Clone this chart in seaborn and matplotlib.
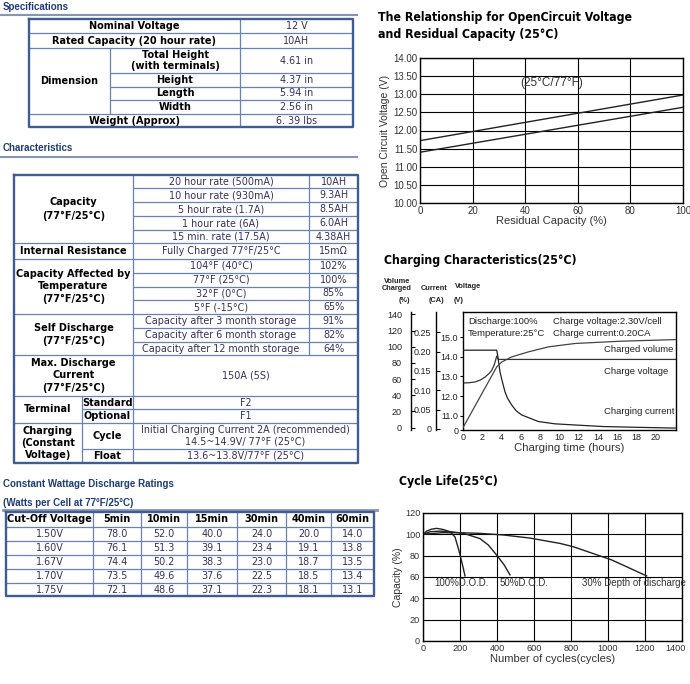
import matplotlib
matplotlib.use("Agg")
import matplotlib.pyplot as plt
import matplotlib.transforms as mtransforms
import seaborn as sns
import numpy as np

# ------------------------------------------------------------------ data
spec_main = ["Nominal Voltage", "Rated Capacity (20 hour rate)"]
spec_main_values = ["12 V", "10AH"]
dim_items = ["Total Height\n(with terminals)", "Height", "Length", "Width"]
dim_values = ["4.61 in", "4.37 in", "5.94 in", "2.56 in"]
weight_label = "Weight (Approx)"
weight_value = "6. 39 lbs"

capacity_rates = ["20 hour rate (500mA)", "10 hour rate (930mA)", "5 hour rate (1.7A)",
                  "1 hour rate (6A)", "15 min. rate (17.5A)"]
capacity_values = ["10AH", "9.3AH", "8.5AH", "6.0AH", "4.38AH"]
resistance_cond = "Fully Charged 77°F/25°C"
resistance_value = "15mΩ"
temp_conditions = ["104°F (40°C)", "77°F (25°C)", "32°F (0°C)", "5°F (-15°C)"]
temp_values = ["102%", "100%", "85%", "65%"]
storage_conditions = ["Capacity after 3 month storage", "Capacity after 6 month storage",
                      "Capacity after 12 month storage"]
storage_values = ["91%", "82%", "64%"]
max_discharge = "150A (5S)"
terminal_types = ["Standard", "Optional"]
terminal_values = ["F2", "F1"]
charging_modes = ["Cycle", "Float"]
charging_values = ["Initial Charging Current 2A (recommended)\n14.5~14.9V/ 77°F (25°C)",
                   "13.6~13.8V/77°F (25°C)"]

watt_headers = ["Cut-Off Voltage", "5min", "10min", "15min", "30min", "40min", "60min"]
cutoff_voltages = ["1.50V", "1.60V", "1.67V", "1.70V", "1.75V"]
watts_5min = [78.0, 76.1, 74.4, 73.5, 72.1]
watts_10min = [52.0, 51.3, 50.2, 49.6, 48.6]
watts_15min = [40.0, 39.1, 38.3, 37.6, 37.1]
watts_30min = [24.0, 23.4, 23.0, 22.5, 22.3]
watts_40min = [20.0, 19.1, 18.7, 18.5, 18.1]
watts_60min = [14.0, 13.8, 13.5, 13.4, 13.1]

ocv_capacity = [0, 100]
ocv_upper = [11.72, 12.98]
ocv_lower = [11.40, 12.64]

volt_hours = [0, 0.6, 1.24, 1.8, 2.28, 2.7, 2.97, 3.2, 3.32, 3.49, 3.66, 22.0]
volt_values = [12.67, 12.68, 12.72, 12.82, 12.97, 13.15, 13.31, 13.55, 13.73, 14.04, 13.87, 13.87]
current_hours = [0, 3.49, 3.59, 3.83, 4.0, 4.35, 4.6, 5.04, 5.5, 6.08, 7.8, 9.53, 11.6, 14.5, 18.0, 22.0]
current_ca = [0.204, 0.204, 0.191, 0.148, 0.13, 0.096, 0.08, 0.062, 0.047, 0.036, 0.019,
              0.013, 0.010, 0.006, 0.004, 0.002]
volume_hours = [0, 3.49, 4.0, 5.04, 6.77, 8.84, 11.6, 16.3, 22.0]
volume_pct = [0, 75, 81, 87.4, 93.6, 99.8, 104, 106.8, 108.8]

dod100_cycles = [0, 20, 45, 74, 110, 146, 173, 196, 214, 227]
dod100_cap = [100, 103, 104.8, 105.6, 104.5, 102.4, 97.5, 83.7, 71, 61]
dod50_cycles = [0, 40, 90, 150, 218, 308, 353, 398, 440, 470]
dod50_cap = [100, 102.5, 103, 102.5, 101, 96, 90, 80.6, 71, 62]
dod30_cycles = [0, 100, 200, 300, 434, 578, 740, 812, 1020, 1209]
dod30_cap = [100, 101.5, 101.5, 101, 99.4, 96.5, 91.5, 88.4, 76, 61]

# ------------------------------------------------------------------ setup
plt.rcParams['font.family'] = ['Liberation Sans', 'DejaVu Sans']
fig = plt.figure(figsize=(6.9, 6.84), dpi=100, facecolor='white')
bg = fig.add_axes([0, 0, 1, 1])
bg.set_xlim(0, 690)
bg.set_ylim(684, 0)
bg.axis('off')

TF = 'DejaVu Sans'
TS = 6.9
TSB = 7.0
BORDER = '#3e5c96'
INNER = '#6783b4'
VALC = '#3a2f5b'
HEADC = '#1f3c78'
TITLEF = dict(fontfamily='DejaVu Sans', fontweight='bold', fontstretch='condensed', fontsize=8.8)


def seg(x0, y0, x1, y1, lw=0.9, c=INNER):
    bg.plot([x0, x1], [y0, y1], color=c, lw=lw, solid_capstyle='butt')


def frame(x0, y0, x1, y1):
    bg.plot([x0, x1, x1, x0, x0], [y0, y0, y1, y1, y0], color=BORDER, lw=1.7)


def t(x, y, s, bold=False, color='black', ls=1.25):
    bg.text(x, y, s, ha='center', va='center', fontsize=TSB if bold else TS, fontfamily=TF,
            fontweight='bold' if bold else 'normal', color=color, linespacing=ls)


def section(y_text, y_line, s, x1=357):
    bg.text(3, y_text, s, fontfamily='Liberation Sans', fontweight='bold', fontsize=7,
            color=HEADC, va='center', ha='left')
    if y_line is not None:
        bg.plot([0, x1], [y_line, y_line], color='#8595b5', lw=1.5)


# ------------------------------------------------------------------ specifications
section(7, 14.5, "Specifications")
X = [29, 110, 240, 353]
Y = [19.3, 33.3, 47.7, 73.3, 86.7, 100, 113.7, 127.3]
for i in (1, 2, 6):
    seg(X[0], Y[i], X[3], Y[i])
for i in (3, 4, 5):
    seg(X[1], Y[i], X[3], Y[i])
seg(X[2], Y[0], X[2], Y[7])
seg(X[1], Y[2], X[1], Y[6])
frame(X[0], Y[0], X[3], Y[7])
for i, (lab, val) in enumerate(zip(spec_main, spec_main_values)):
    yc = (Y[i] + Y[i + 1]) / 2
    t((X[0] + X[2]) / 2, yc, lab, bold=True)
    t((X[2] + X[3]) / 2, yc, val, color=VALC)
t((X[0] + X[1]) / 2, (Y[2] + Y[6]) / 2, "Dimension", bold=True)
for i, (lab, val) in enumerate(zip(dim_items, dim_values)):
    yc = (Y[2 + i] + Y[3 + i]) / 2
    t((X[1] + X[2]) / 2, yc, lab, bold=True, ls=1.15)
    t((X[2] + X[3]) / 2, yc, val, color=VALC)
t((X[0] + X[2]) / 2, (Y[6] + Y[7]) / 2, weight_label, bold=True)
t((X[2] + X[3]) / 2, (Y[6] + Y[7]) / 2, weight_value, color=VALC)

# ------------------------------------------------------------------ characteristics
section(148, 157, "Characteristics")
CX = [14, 82, 133, 309, 358]
CY = [175, 188.3, 202.3, 216, 230, 243.3, 259, 273, 287, 300, 314, 328, 342, 355,
      396, 409, 423, 449, 463]
full_rows = [5, 6, 10, 13, 14, 16]
for i in full_rows:
    seg(CX[0], CY[i], CX[4], CY[i])
for i in (1, 2, 3, 4, 7, 8, 9, 11, 12):
    seg(CX[2], CY[i], CX[4], CY[i])
seg(CX[1], CY[15], CX[4], CY[15])
seg(CX[1], CY[17], CX[4], CY[17])
seg(CX[2], CY[0], CX[2], CY[18])
seg(CX[3], CY[0], CX[3], CY[13])
seg(CX[1], CY[14], CX[1], CY[18])
frame(CX[0], CY[0], CX[4], CY[18])

lx = (CX[0] + CX[2]) / 2
mx = (CX[2] + CX[3]) / 2
vx = (CX[3] + CX[4]) / 2
t(lx, (CY[0] + CY[5]) / 2, "Capacity\n(77°F/25°C)", bold=True, ls=1.45)
for i, (c, v) in enumerate(zip(capacity_rates, capacity_values)):
    yc = (CY[i] + CY[i + 1]) / 2
    t(mx, yc, c, color=VALC)
    t(vx, yc, v, color=VALC)
t(lx, (CY[5] + CY[6]) / 2, "Internal Resistance", bold=True)
t(mx, (CY[5] + CY[6]) / 2, resistance_cond, color=VALC)
t(vx, (CY[5] + CY[6]) / 2, resistance_value, color=VALC)
t(lx, (CY[6] + CY[10]) / 2, "Capacity Affected by\nTemperature\n(77°F/25°C)", bold=True, ls=1.3)
for i, (c, v) in enumerate(zip(temp_conditions, temp_values)):
    yc = (CY[6 + i] + CY[7 + i]) / 2
    t(mx, yc, c, color=VALC)
    t(vx, yc, v, color=VALC)
t(lx, (CY[10] + CY[13]) / 2, "Self Discharge\n(77°F/25°C)", bold=True, ls=1.4)
for i, (c, v) in enumerate(zip(storage_conditions, storage_values)):
    yc = (CY[10 + i] + CY[11 + i]) / 2
    t(mx, yc, c, color=VALC)
    t(vx, yc, v, color=VALC)
t(lx, (CY[13] + CY[14]) / 2, "Max. Discharge\nCurrent\n(77°F/25°C)", bold=True, ls=1.3)
wx = (CX[2] + CX[4]) / 2
t(wx, (CY[13] + CY[14]) / 2, max_discharge, color=VALC)
sx = (CX[1] + CX[2]) / 2
t((CX[0] + CX[1]) / 2, (CY[14] + CY[16]) / 2, "Terminal", bold=True)
for i, (k, v) in enumerate(zip(terminal_types, terminal_values)):
    yc = (CY[14 + i] + CY[15 + i]) / 2
    t(sx, yc, k, bold=True)
    t(wx, yc, v, color=VALC)
t((CX[0] + CX[1]) / 2, (CY[16] + CY[18]) / 2, "Charging\n(Constant\nVoltage)", bold=True, ls=1.2)
for i, (k, v) in enumerate(zip(charging_modes, charging_values)):
    yc = (CY[16 + i] + CY[17 + i]) / 2
    t(sx, yc, k, bold=True)
    t(wx, yc, v, color=VALC, ls=1.15)

# ------------------------------------------------------------------ wattage table
section(484, None, "Constant Wattage Discharge Ratings")
section(503, None, "(Watts per Cell at 77°F/25°C)")
bg.plot([3, 377], [510, 510], color='#8595b5', lw=2)
WX = [6, 93, 141, 187, 237, 286, 331, 374]
WY = [511.5, 527.3, 540.7, 555, 569.3, 583.3, 596]
for y in WY[1:-1]:
    seg(WX[0], y, WX[-1], y)
for x in WX[1:-1]:
    seg(x, WY[0], x, WY[-1])
frame(WX[0], WY[0], WX[-1], WY[-1])
for j, h in enumerate(watt_headers):
    t((WX[j] + WX[j + 1]) / 2, (WY[0] + WY[1]) / 2, h, bold=True)
watt_cols = [watts_5min, watts_10min, watts_15min, watts_30min, watts_40min, watts_60min]
for i, cv in enumerate(cutoff_voltages):
    yc = (WY[i + 1] + WY[i + 2]) / 2
    t((WX[0] + WX[1]) / 2, yc, cv, color=VALC)
    for j, col in enumerate(watt_cols):
        t((WX[j + 1] + WX[j + 2]) / 2, yc, f"{col[i]:.1f}", color=VALC)

# ------------------------------------------------------------------ chart titles
bg.text(378, 17.3, "The Relationship for OpenCircuit Voltage", ha='left', va='center', **TITLEF)
bg.text(378, 34.3, "and Residual Capacity (25°C)", ha='left', va='center', **TITLEF)
bg.text(384, 260.7, "Charging Characteristics(25°C)", ha='left', va='center', **TITLEF)
bg.text(399, 481, "Cycle Life(25°C)", ha='left', va='center', **TITLEF)

LBLC = '#333333'


def fax(l, t_, r, b):
    return fig.add_axes([l / 690, 1 - b / 684, (r - l) / 690, (b - t_) / 684])


# ------------------------------------------------------------------ chart 1: OCV
ax1 = fax(420, 58, 683, 203)
sns.lineplot(x=ocv_capacity, y=ocv_upper, ax=ax1, color='#222222', lw=1.0)
sns.lineplot(x=ocv_capacity, y=ocv_lower, ax=ax1, color='#222222', lw=1.0)
ax1.set_xlim(0, 100)
ax1.set_ylim(10, 14)
ax1.set_xticks(np.arange(0, 101, 20))
ax1.set_yticks(np.arange(10, 14.01, 0.5))
ax1.yaxis.set_major_formatter('{x:.2f}')
ax1.grid(True, color='black', lw=0.8)
ax1.set_axisbelow(True)
ax1.tick_params(length=0, labelsize=7, labelcolor=LBLC, pad=2)
for sp in ax1.spines.values():
    sp.set_color('black')
    sp.set_linewidth(1.0)
ax1.set_xlabel("Residual Capacity (%)", fontsize=8, color=LBLC, labelpad=0)
ax1.set_ylabel("Open Circuit Voltage (V)", fontsize=7.5, color=LBLC, labelpad=2)
ax1.text(50, 13.31, "(25°C/77°F)", ha='center', va='center', fontsize=8.5, color=LBLC)

# ------------------------------------------------------------------ chart 2: charging
ax2 = fax(463, 312, 676, 430)
ax2.set_xlim(0, 22.07)
ax2.set_ylim(10.27, 16.29)
sns.lineplot(x=volt_hours, y=volt_values, ax=ax2, color='#333333', lw=0.9,
             sort=False, estimator=None)
ax2.set_xticks(np.arange(0, 21, 2))
ax2.set_yticks([10.27, 11, 12, 13, 14, 15])
ax2.set_yticklabels(['0', '11.0', '12.0', '13.0', '14.0', '15.0'])
ax2.tick_params(axis='x', length=0, pad=2, labelsize=6.5, labelcolor='#222')
ax2.tick_params(axis='y', direction='out', length=2, pad=1.5, labelsize=6.5, labelcolor='#222')
for sp in ax2.spines.values():
    sp.set_color('black')
    sp.set_linewidth(1.0)
ax2.set_xlabel("Charging time (hours)", fontsize=8.2, color=LBLC, labelpad=1)

axc = ax2.twinx()
axc.set_ylim(-0.003, 0.303)
sns.lineplot(x=current_hours, y=current_ca, ax=axc, color='#222222', lw=0.9,
             sort=False, estimator=None)
axv = ax2.twinx()
axv.set_ylim(-2.9, 142.9)
sns.lineplot(x=volume_hours, y=volume_pct, ax=axv, color='#444444', lw=0.9,
             sort=False, estimator=None)
for tw, pos, ticks, labels, pad in (
        (axc, -27 / 213, [0, 0.05, 0.10, 0.15, 0.20, 0.25],
         ['0', '0.05', '0.10', '0.15', '0.20', '0.25'], 3.2),
        (axv, -52 / 213, list(range(0, 141, 20)), [str(v) for v in range(0, 141, 20)], 6.5)):
    tw.set_xlim(0, 22.07)
    tw.yaxis.set_ticks_position('left')
    tw.yaxis.set_label_position('left')
    for k in ('top', 'right', 'bottom'):
        tw.spines[k].set_visible(False)
    tw.spines['left'].set_position(('axes', pos))
    tw.spines['left'].set_color('black')
    tw.spines['left'].set_linewidth(1.0)
    tw.set_yticks(ticks)
    tw.set_yticklabels(labels)
    tw.tick_params(axis='y', direction='in', length=3, pad=pad, labelsize=6.5, labelcolor='#222')
    tw.set_ylabel('')
    tw.set_xlabel('')

ax2.text(0.52, 15.81, "Discharge:100%", fontsize=6.8, va='center', ha='left', color='#222')
ax2.text(0.52, 15.2, "Temperature:25°C", fontsize=6.8, va='center', ha='left', color='#222')
ax2.text(9.3, 15.81, "Charge voltage:2.30V/cell", fontsize=6.8, va='center', ha='left', color='#222')
ax2.text(9.3, 15.2, "Charge current:0.20CA", fontsize=6.8, va='center', ha='left', color='#222')
ax2.text(21.76, 14.39, "Charged volume", fontsize=6.8, va='center', ha='right', color='#222')
ax2.text(21.24, 13.23, "Charge voltage", fontsize=6.8, va='center', ha='right', color='#222')
ax2.text(21.87, 11.19, "Charging current", fontsize=6.8, va='center', ha='right', color='#222')

hdr = dict(fontsize=5.3, fontweight='bold', color='#222', ha='center', va='center')
bg.text(397, 285, "Volume\nCharged", linespacing=1.1, **hdr)
bg.text(434, 288.3, "Current", **hdr)
bg.text(468, 287, "Voltage", **hdr)
bg.text(404, 301, "(%)", **hdr)
bg.text(436.7, 301, "(CA)", **hdr)
bg.text(459, 301, "(V)", **hdr)

# ------------------------------------------------------------------ chart 3: cycle life
ax3 = fax(423, 513, 682, 641)
for cx, cy in ((dod100_cycles, dod100_cap), (dod50_cycles, dod50_cap), (dod30_cycles, dod30_cap)):
    sns.lineplot(x=cx, y=cy, ax=ax3, color='#222222', lw=1.0, sort=False, estimator=None)
ax3.set_xlim(0, 1400)
ax3.set_ylim(0, 120)
ax3.set_xticks(np.arange(0, 1401, 200))
ax3.set_yticks(np.arange(0, 121, 20))
ax3.grid(True, color='black', lw=0.8)
ax3.set_axisbelow(True)
ax3.tick_params(length=0, labelsize=6.6, labelcolor=LBLC, pad=2)
for sp in ax3.spines.values():
    sp.set_color('black')
    sp.set_linewidth(1.0)
ax3.set_xlabel("Number of cycles(cycles)", fontsize=8, color=LBLC, labelpad=1)
ax3.set_ylabel("Capacity (%)", fontsize=7.5, color=LBLC, labelpad=1)
ax3.text(59, 54, "100%D.O.D.", fontsize=7, va='center', ha='left', color=LBLC)
ax3.text(416, 54, "50%D.O.D.", fontsize=7, va='center', ha='left', color=LBLC)
ax3.text(861, 54, "30% Depth of discharge", fontsize=7, va='center', ha='left', color=LBLC)
# nudge the last x tick label ("1400") inward so it stays inside the figure
last_lbl = ax3.get_xticklabels()[-1]
last_lbl.set_transform(last_lbl.get_transform() +
                       mtransforms.ScaledTranslation(-6 / 100, 0, fig.dpi_scale_trans))

fig.savefig("out.png", dpi=100, facecolor='white')
